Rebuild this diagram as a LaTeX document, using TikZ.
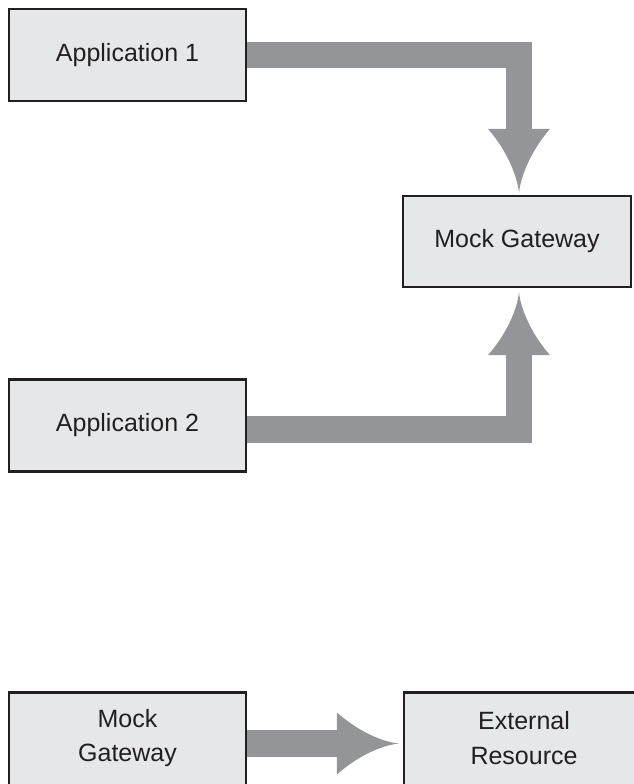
\documentclass[tikz,border=0pt]{standalone}
\usepackage{fontspec}
\setmainfont{Liberation Sans}
\usetikzlibrary{calc}
\definecolor{boxfill}{HTML}{E6E7E8}
\definecolor{arrowgray}{HTML}{939598}
\definecolor{edgecol}{HTML}{231F20}
\tikzset{
  box/.style={draw=edgecol, fill=boxfill, line width=2.2pt, rectangle, inner sep=0pt,
    font=\fontsize{25}{34.5}\selectfont, align=center, text=edgecol},
  lbl/.style={inner sep=0pt, font=\fontsize{25}{34.5}\selectfont, align=center, text=edgecol},
  shaft/.style={draw=arrowgray, line width=26.5pt},
  head/.style={fill=arrowgray},
}
\begin{document}
\begin{tikzpicture}[x=1pt,y=-1pt]
\useasboundingbox (0,0) rectangle (634,784);
\clip (0,0) rectangle (634,784);

\node[box, minimum width=237pt, minimum height=92pt] (a1) at (127.5,55) {Application 1};
\node[box, minimum width=228pt, minimum height=91pt] (gw) at (517,241.5) {Mock Gateway};
\node[box, minimum width=237pt, minimum height=92pt] (a2) at (127.5,425.5) {Application 2};
\node[box, minimum width=237pt, minimum height=102pt] (gw2) at (127.5,743.5) {};
\node[lbl] (gw2t) at (127.5,738) {Mock\\Gateway};
\node[box, minimum width=240pt, minimum height=102pt] (er) at (524,743.5) {};
\node[lbl] (ert) at (524,738) {External\\Resource};

% arrow 1: Application 1 -> Mock Gateway
\coordinate (t1) at ($(gw.north)+(2,-2)$);
\coordinate (b1) at ($(t1)+(0,-64)$);
\draw[shaft] (a1.east) -| (b1);
\fill[head] ($(b1)+(-31,0)$) -- ($(b1)+(31,0)$)
  .. controls ($(b1)+(15,18)$) and ($(t1)+(2,-20)$) .. (t1)
  .. controls ($(t1)+(-2,-20)$) and ($(b1)+(-15,18)$) .. cycle;

% arrow 2: Application 2 -> Mock Gateway
\coordinate (t2) at ($(gw.south)+(2,4)$);
\coordinate (b2) at ($(t2)+(0,63)$);
\draw[shaft] ($(a2.east)+(0,4)$) -| (b2);
\fill[head] ($(b2)+(-31,0)$) -- ($(b2)+(31,0)$)
  .. controls ($(b2)+(15,-18)$) and ($(t2)+(2,20)$) .. (t2)
  .. controls ($(t2)+(-2,20)$) and ($(b2)+(-15,-18)$) .. cycle;

% arrow 3: Mock Gateway -> External Resource
\coordinate (t3) at ($(er.west)+(-4,0)$);
\coordinate (b3) at ($(t3)+(-62,0)$);
\draw[shaft] (gw2.east) -- (b3);
\fill[head] ($(b3)+(0,-31)$) -- ($(b3)+(0,31)$)
  .. controls ($(b3)+(18,15)$) and ($(t3)+(-20,2)$) .. (t3)
  .. controls ($(t3)+(-20,-2)$) and ($(b3)+(18,-15)$) .. cycle;
\end{tikzpicture}
\end{document}
